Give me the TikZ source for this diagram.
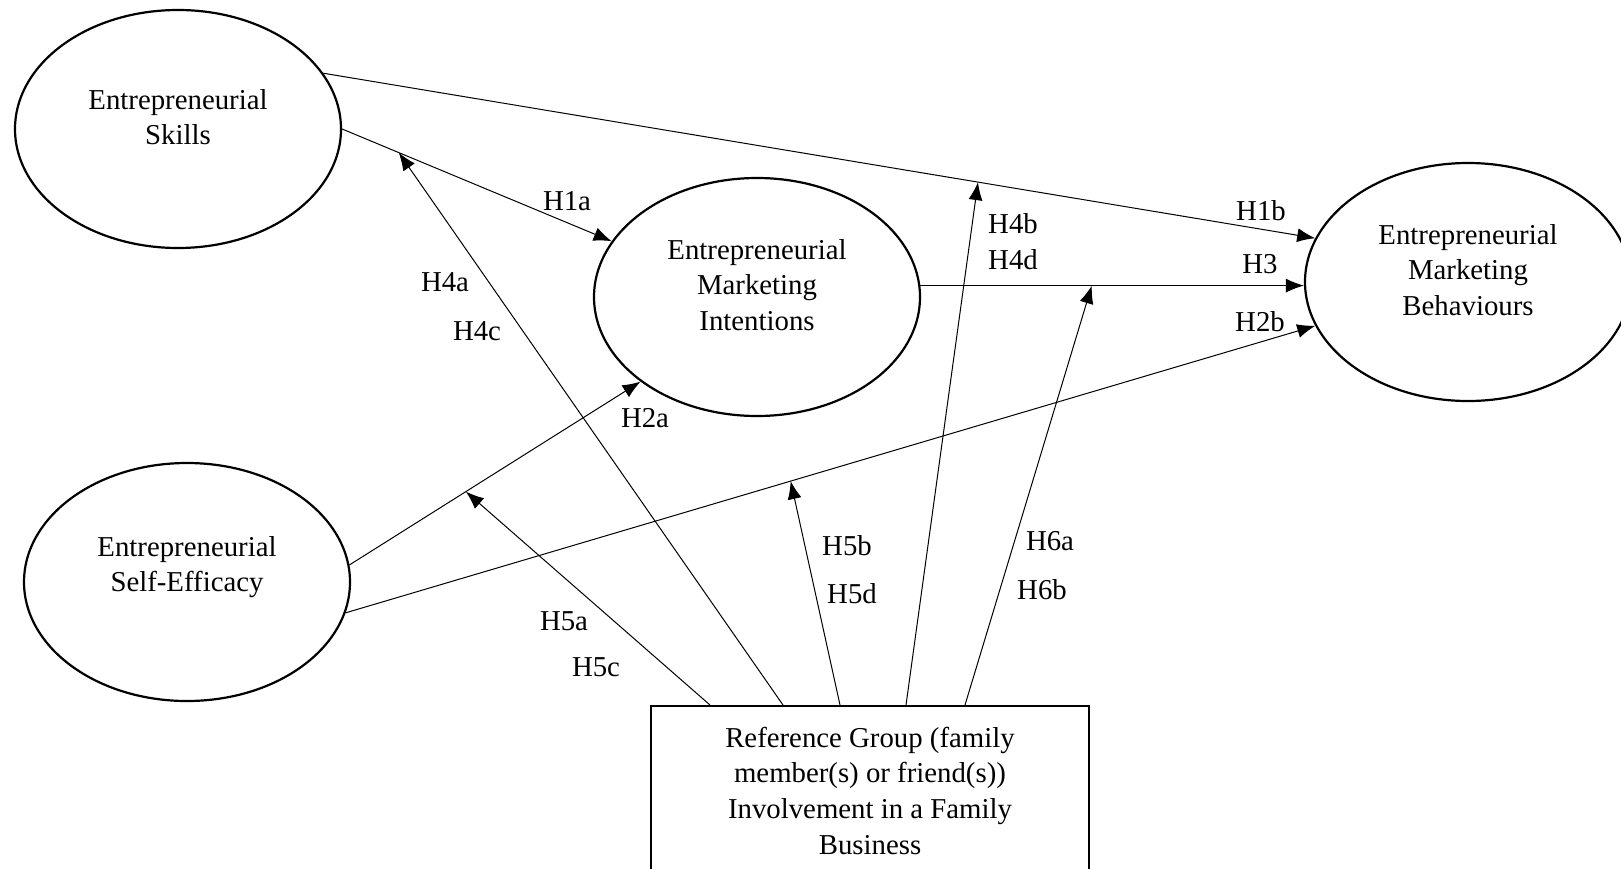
\documentclass[tikz,border=0pt]{standalone}
\usepackage{fontspec}
\setmainfont{Liberation Serif}
\usetikzlibrary{shapes.geometric, arrows.meta}

\begin{document}
\begin{tikzpicture}[
      x=0.5pt, y=-0.5pt,
      font=\fontsize{14.4pt}{17.8pt}\selectfont,
      construct/.style={ellipse, draw, line width=1.1pt, minimum width=163pt, minimum height=119pt, inner sep=0pt},
      caption/.style={align=center, inner sep=0pt},
      block/.style={rectangle, draw, line width=1.1pt, minimum width=219pt, inner xsep=0pt, inner ysep=10.5pt, align=center, anchor=north},
      line/.style={draw, line width=0.5pt, -{Latex[length=9pt,width=7pt]}},
      hyp/.style={inner sep=0pt}
    ]
    \useasboundingbox (0,0) rectangle (1621,868);

    % Nodes
    \node[construct] (skills) at (178,129) {};
    \node[construct] (selfeff) at (187,582) {};
    \node[construct] (intent) at (757,297) {};
    \node[construct] (behav) at (1468,282) {};
    \node[caption] (skillstxt) at ([yshift=6pt]skills.center) {Entrepreneurial\\Skills};
    \node[caption] (selfefftxt) at ([yshift=7.5pt]selfeff.center) {Entrepreneurial\\Self-Efficacy};
    \node[caption] (intenttxt) at ([yshift=6pt]intent.center) {Entrepreneurial\\Marketing\\Intentions};
    \node[caption] (behavtxt) at ([yshift=6pt]behav.center) {Entrepreneurial\\Marketing\\Behaviours};
    \node[block] (refgroup) at (870,705) {Reference Group (family\\member(s) or friend(s))\\Involvement in a Family\\Business};

    % Direct paths
    \draw[line] (skills.east) -- (intent.159) coordinate[pos=0.21] (m4a);
    \draw[line] (skills.21) -- (behav.164) coordinate[pos=0.66] (m4b);
    \draw[line] (selfeff.6) -- (intent.216) coordinate[pos=0.40] (m5a);
    \draw[line] (selfeff.-11) -- (behav.196) coordinate[pos=0.459] (m5b);
    \draw[line] (intent.4) -- (intent.4 -| behav.west) coordinate[pos=0.447] (m6);

    % Moderating paths
    \draw[line] ([xshift=-80pt]refgroup.north) -- (m5a);
    \draw[line] ([xshift=-43.5pt]refgroup.north) -- (m4a);
    \draw[line] ([xshift=-15pt]refgroup.north) -- (m5b);
    \draw[line] ([xshift=18pt]refgroup.north) -- (m4b);
    \draw[line] ([xshift=47.5pt]refgroup.north) -- (m6);

    % Labels
    \node[hyp] (h1a) at (567,201) {H1a};
    \node[hyp] (h1b) at (1261,211) {H1b};
    \node[hyp] (h3) at (1260,264) {H3};
    \node[hyp] (h2b) at (1260,322) {H2b};
    \node[hyp] (h2a) at (645,418) {H2a};
    \node[hyp] (h4a) at (445,282) {H4a};
    \node[hyp] (h4c) at (477,331) {H4c};
    \node[hyp] (h4b) at (1013,224) {H4b};
    \node[hyp] (h4d) at (1013,260) {H4d};
    \node[hyp] (h5a) at (564,621) {H5a};
    \node[hyp] (h5c) at (596,667) {H5c};
    \node[hyp] (h5b) at (847,546) {H5b};
    \node[hyp] (h5d) at (852,594) {H5d};
    \node[hyp] (h6a) at (1050,541) {H6a};
    \node[hyp] (h6b) at (1042,590) {H6b};
  \end{tikzpicture}
\end{document}
